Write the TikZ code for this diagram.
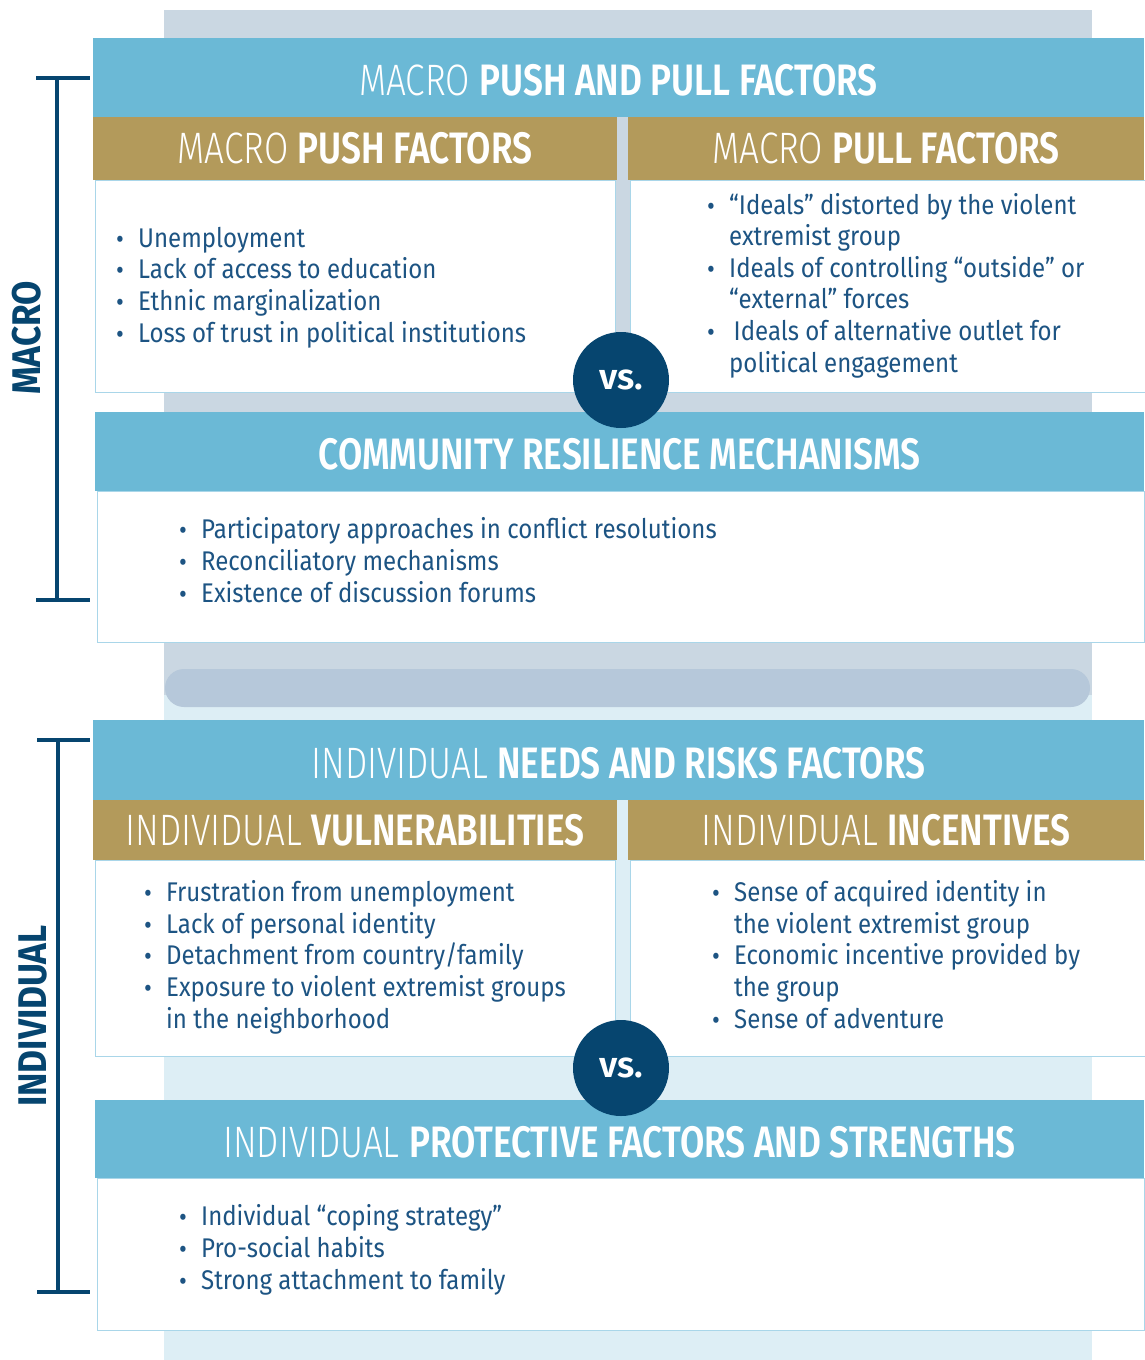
\documentclass[tikz,border=0pt]{standalone}
\usepackage{fontspec}
\setmainfont{Fira Sans}[FakeStretch=0.89]
\newfontfamily\headFont{Fira Sans}[FakeStretch=0.80, BoldFont={Fira Sans SemiBold}]
\newfontfamily\headLightFont{Fira Sans Light}[FakeStretch=0.80]
\newfontfamily\sideFont{Fira Sans}[FakeStretch=0.88]
\newfontfamily\vsFont{Fira Sans}[BoldFont={Fira Sans SemiBold}]
\definecolor{panelGray}{HTML}{CAD7E2}
\definecolor{panelBlue}{HTML}{DDEEF5}
\definecolor{barGray}{HTML}{B6C8DA}
\definecolor{headBlue}{HTML}{6BB9D6}
\definecolor{gold}{HTML}{B39A5B}
\definecolor{navy}{HTML}{06456F}
\definecolor{textBlue}{HTML}{1D5483}
\definecolor{lineBlue}{HTML}{A9D6E9}
\newcommand{\bulletIndent}[0]{22pt}
\newcommand{\itemLine}[1]{\makebox[\bulletIndent][l]{\raisebox{-1pt}{\fontsize{27}{27}\selectfont\textbullet}}#1}
\newcommand{\moreLine}[1]{\hspace*{\bulletIndent}#1}
\newcommand{\thin}[1]{{\headLightFont #1}}

\begin{document}
\begin{tikzpicture}[x=1pt,y=-1pt]
  \tikzset{
    headbar/.style={fill=headBlue, text=white, anchor=north west, inner sep=0pt, outer sep=0pt,
      minimum height=79pt, text height=36pt, text depth=0pt, font=\headFont\fontsize{44}{44}\selectfont},
    goldbar/.style={fill=gold, text=white, anchor=north west, inner sep=0pt, outer sep=0pt,
      minimum height=63pt, font=\headFont\fontsize{44}{44}\selectfont},
    listbox/.style={fill=white, draw=lineBlue, line width=1pt, anchor=north west, inner sep=0pt},
    itemlist/.style={anchor=base west, align=left, inner sep=0pt, text=textBlue,
      font=\fontsize{27}{31.6}\selectfont},
    vscircle/.style={circle, fill=navy, text=white, minimum size=96pt, inner sep=0pt,
      font=\vsFont\fontsize{36}{36}\selectfont\bfseries},
    bracket/.style={draw=navy, line width=4pt},
    sidelabel/.style={rotate=90, text=navy, inner sep=0pt, font=\sideFont\fontsize{40}{40}\selectfont\bfseries}
  }
  \useasboundingbox (0,0) rectangle (1144,1360);
  \fill[panelGray] (164,10) rectangle (1092,700);
  \fill[panelBlue] (164,695) rectangle (1092,1360);
  \fill[barGray, rounded corners=19pt] (165,669) rectangle (1090,707);

  \node[headbar, minimum width=1051pt] (macrohead) at (93,38)
    {\thin{MACRO} \textbf{PUSH AND PULL FACTORS}};
  \node[goldbar, minimum width=524pt] (pushhead) at (93,117)
    {\thin{MACRO} \textbf{PUSH FACTORS}};
  \node[goldbar, minimum width=516pt] (pullhead) at (628,117)
    {\thin{MACRO} \textbf{PULL FACTORS}};
  \node[listbox, minimum width=520pt, minimum height=212pt] (pushbox) at (95,180) {};
  \node[listbox, minimum width=516pt, minimum height=212pt] (pullbox) at (630,180) {};
  \node[itemlist] (pushlist) at (116,342)
    {\itemLine{Unemployment}\\
     \itemLine{Lack of access to education}\\
     \itemLine{Ethnic marginalization}\\
     \itemLine{Loss of trust in political institutions}};
  \node[itemlist] (pulllist) at (707,372)
    {\itemLine{“Ideals” distorted by the violent}\\
     \moreLine{extremist group}\\
     \itemLine{Ideals of controlling “outside” or}\\
     \moreLine{“external” forces}\\
     \itemLine{\,Ideals of alternative outlet for}\\
     \moreLine{political engagement}};

  \node[headbar, minimum width=1049pt] (communityhead) at (95,412)
    {\textbf{COMMUNITY RESILIENCE MECHANISMS}};
  \node[listbox, minimum width=1047pt, minimum height=151pt] (communitybox) at (97,491) {};
  \node[itemlist] (communitylist) at (179,602)
    {\itemLine{Participatory approaches in conflict resolutions}\\
     \itemLine{Reconciliatory mechanisms}\\
     \itemLine{Existence of discussion forums}};
  \node[vscircle] (vsmacro) at (621,380) {vs.};

  \node[headbar, minimum width=1051pt, minimum height=80pt] (individualhead) at (93,720)
    {\thin{INDIVIDUAL} \textbf{NEEDS AND RISKS FACTORS}};
  \node[goldbar, minimum width=524pt, minimum height=60pt] (vulnhead) at (93,800)
    {\thin{INDIVIDUAL} \textbf{VULNERABILITIES}};
  \node[goldbar, minimum width=516pt, minimum height=60pt] (incenthead) at (628,800)
    {\thin{INDIVIDUAL} \textbf{INCENTIVES}};
  \node[listbox, minimum width=520pt, minimum height=196pt] (vulnbox) at (95,860) {};
  \node[listbox, minimum width=516pt, minimum height=196pt] (incentbox) at (630,860) {};
  \node[itemlist] (vulnlist) at (144,1028)
    {\itemLine{Frustration from unemployment}\\
     \itemLine{Lack of personal identity}\\
     \itemLine{Detachment from country/family}\\
     \itemLine{Exposure to violent extremist groups}\\
     \moreLine{in the neighborhood}};
  \node[itemlist] (incentlist) at (712,1028)
    {\itemLine{Sense of acquired identity in}\\
     \moreLine{the violent extremist group}\\
     \itemLine{Economic incentive provided by}\\
     \moreLine{the group}\\
     \itemLine{Sense of adventure}};

  \node[headbar, minimum width=1049pt, minimum height=78pt] (protecthead) at (95,1100)
    {\thin{INDIVIDUAL} \textbf{PROTECTIVE FACTORS AND STRENGTHS}};
  \node[listbox, minimum width=1047pt, minimum height=152pt] (protectbox) at (97,1178) {};
  \node[itemlist] (protectlist) at (179,1289)
    {\itemLine{Individual “coping strategy”}\\
     \itemLine{Pro-social habits}\\
     \itemLine{Strong attachment to family}};
  \node[vscircle] (vsindividual) at (621,1068) {vs.};

  \coordinate (macrotop) at (57,78);
  \coordinate (macrobot) at (57,600);
  \coordinate (indtop) at (58,740);
  \coordinate (indbot) at (58,1292);
  \draw[bracket] ([xshift=-21pt]macrotop) -- ([xshift=33pt]macrotop)
    (macrotop) -- (macrobot)
    ([xshift=-21pt]macrobot) -- ([xshift=33pt]macrobot);
  \draw[bracket] ([xshift=-21pt]indtop) -- ([xshift=32pt]indtop)
    (indtop) -- (indbot)
    ([xshift=-21pt]indbot) -- ([xshift=32pt]indbot);
  \node[sidelabel] (macrolabel) at (27,338) {MACRO};
  \node[sidelabel] (individuallabel) at (33,1016) {INDIVIDUAL};
\end{tikzpicture}
\end{document}
